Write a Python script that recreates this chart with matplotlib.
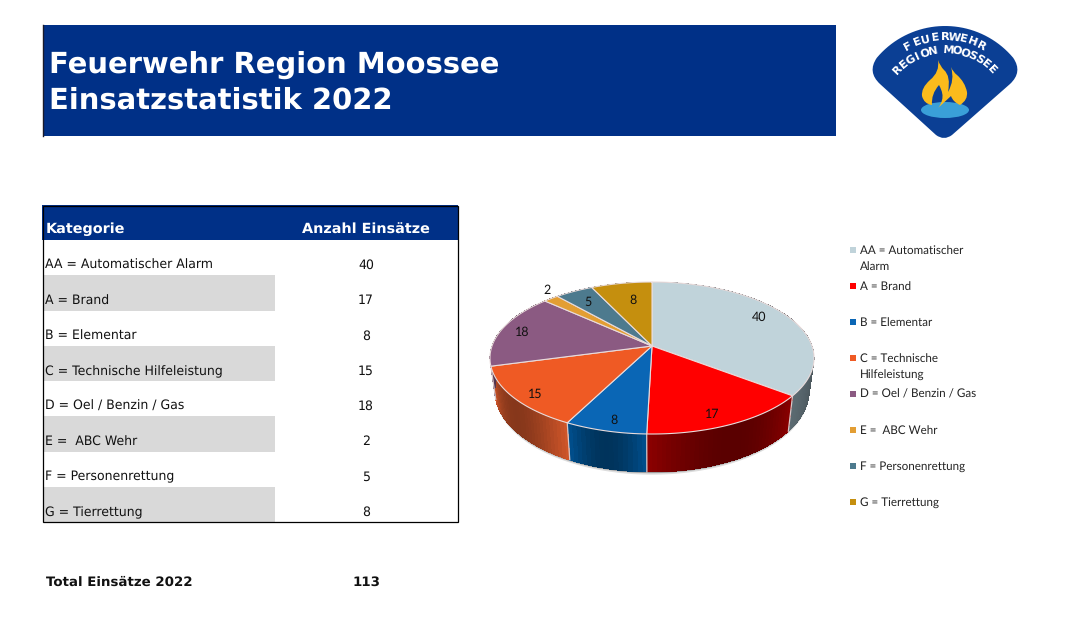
import numpy as np
import matplotlib
matplotlib.use("Agg")
import matplotlib.pyplot as plt
from matplotlib.patches import Polygon, Rectangle, Ellipse, PathPatch
from matplotlib.path import Path

plt.rcParams["text.hinting"] = "no_hinting"
plt.rcParams["text.hinting_factor"] = 8

kategorien = ["AA = Automatischer Alarm", "A = Brand", "B = Elementar", "C = Technische Hilfeleistung",
              "D = Oel / Benzin / Gas", "E =  ABC Wehr", "F = Personenrettung", "G = Tierrettung"]
legende = ["AA = Automatischer\nAlarm", "A = Brand", "B = Elementar", "C = Technische\nHilfeleistung",
           "D = Oel / Benzin / Gas", "E =  ABC Wehr", "F = Personenrettung", "G = Tierrettung"]
einsaetze = [40, 17, 8, 15, 18, 2, 5, 8]
farben = ["#c0d3da", "#ff0000", "#0a66b5", "#ef5a24", "#8b5a82", "#e39e33", "#4d7a8e", "#c58f0e"]
seiten = ["#5c6b72", "#8c0000", "#00508f", "#d2562a", "#6a4463", "#ad7a2a", "#3a5c6b", "#96700c"]
label_r = [0.84, 0.86, 0.88, 0.88, 0.86, 1.15, 0.81, 0.72]
label_dw = [-5, 3, -1, -2, 0, 4, 0, 2]
total = 113

blau = "#003087"
grau = "#d9d9d9"

fig = plt.figure(figsize=(10.87, 6.31), dpi=100)
ax = fig.add_axes([0, 0, 1, 1])
ax.set_xlim(0, 1087)
ax.set_ylim(631, 0)
ax.axis("off")

# Titel
ax.add_patch(Rectangle((43, 25), 793, 111, fc=blau, ec="none"))
ax.plot([42.5, 42.5], [25, 136], color="#1a1a2a", lw=1)
ax.text(49, 64.5, "Feuerwehr Region Moossee", color="white", fontsize=20.9, fontweight="bold", va="center")
ax.text(49, 100.5, "Einsatzstatistik 2022", color="white", fontsize=20.9, fontweight="bold", va="center")

# Tabelle
zeile = 35.25
ax.add_patch(Rectangle((42, 205), 416, 35, fc=blau, ec="none"))
for i, (k, n) in enumerate(zip(kategorien, einsaetze)):
    y0 = 240 + i * zeile
    if i % 2 == 1:
        ax.add_patch(Rectangle((43, y0), 232, zeile, fc=grau, ec="none"))
    ax.text(45, y0 + 25.5, k, fontsize=9, va="center", color="#111111")
    ax.text(366, y0 + 25.5, str(n), fontsize=9, va="center", ha="center", color="#111111")
ax.add_patch(Rectangle((42.5, 205.5), 415, 316, fc="none", ec="black", lw=0.9))
ax.text(46, 229.5, "Kategorie", color="white", fontsize=10.4, fontweight="bold", va="center")
ax.text(366, 229.5, "Anzahl Einsätze", color="white", fontsize=10.4, fontweight="bold", va="center", ha="center")
ax.text(46, 582, "Total Einsätze 2022", fontsize=9.6, fontweight="bold", va="center", color="#111111")
ax.text(366, 582, str(total), fontsize=9.6, fontweight="bold", va="center", ha="center", color="#111111")


# Kuchen mit Perspektive
cx, cy = 652, 346
def rand(theta, r=1.0, tiefe=0):
    u, v = np.sin(theta), np.cos(theta)
    w = 1 + 0.158 * r * v
    sx = 1 - 0.03 * tiefe
    return cx + 160 * sx * r * u / w, cy - 74.1 * r * v / w + tiefe * 32 / w

grenzen = np.cumsum([0] + einsaetze) / sum(einsaetze) * 2 * np.pi

# Schatten
t = np.linspace(0, 2 * np.pi, 200)
for d, a in [(1.03, 0.45), (1.07, 0.2)]:
    x, y = rand(t, 1.0, d)
    ax.add_patch(Polygon(np.c_[x, y], fc="#555555", ec="none", alpha=a, zorder=1))

# Seitenwand
for i in range(len(einsaetze)):
    a, b = grenzen[i], grenzen[i + 1]
    n = max(int((b - a) * 40), 2)
    kanten = np.linspace(a, b, n + 1)
    basis = np.array(matplotlib.colors.to_rgb(seiten[i]))
    for j in range(n):
        t0, t1 = kanten[j], kanten[j + 1] + 0.01
        s = 1 - 0.36 * np.sin(np.pi * (j + 0.5) / n)
        x0, y0 = rand(t0)
        x1, y1 = rand(t1)
        x2, y2 = rand(t1, tiefe=1)
        x3, y3 = rand(t0, tiefe=1)
        ax.add_patch(Polygon([(x0, y0), (x1, y1), (x2, y2), (x3, y3)], fc=basis * s, ec="none",
                             antialiased=False, zorder=2))
for g in grenzen:
    if np.cos(g) < 0.1:
        x0, y0 = rand(g)
        x1, y1 = rand(g, tiefe=1)
        ax.plot([x0, x1], [y0, y1], color="#d8c8c8", lw=0.9, zorder=3)

# Oberseite
for i in range(len(einsaetze)):
    t = np.linspace(grenzen[i], grenzen[i + 1], 80)
    x, y = rand(t)
    pts = np.r_[[[cx, cy]], np.c_[x, y]]
    ax.add_patch(Polygon(pts, fc=farben[i], ec="#e9dcdc", lw=0.8, zorder=4))
    mitte = (grenzen[i] + grenzen[i + 1]) / 2 + np.radians(label_dw[i])
    lx, ly = rand(mitte, label_r[i])
    ax.text(lx, ly + 1, str(einsaetze[i]), fontsize=9, family="Lato", ha="center", va="center", color="#111111", zorder=5)

# Legende
leg_y = 250
for i, (l, f) in enumerate(zip(legende, farben)):
    y = leg_y + i * 36
    ax.add_patch(Rectangle((850, y - 3), 6, 6, fc=f, ec="none"))
    for k, teil in enumerate(l.split("\n")):
        ax.text(860, y + 0.5 + k * 16.5, teil, fontsize=8.35, family="Lato", va="center", color="#222222")

# Logo
lx0, ly0, lr = 945, 115, 89
bogen = np.radians(np.linspace(-50, 50, 40))
bx, by = lx0 + lr * np.sin(bogen), ly0 - lr * np.cos(bogen)
v = [(880, 84), (867, 72)] + list(zip(bx, by)) + [(1023, 72), (1010, 84), (952, 135), (944, 141), (936, 135), (880, 84)]
c = [Path.MOVETO, Path.CURVE3, Path.CURVE3] + [Path.LINETO] * 39 + [Path.CURVE3, Path.CURVE3, Path.LINETO, Path.CURVE3, Path.CURVE3, Path.LINETO]
ax.add_patch(PathPatch(Path(v, c), fc="#0b3f94", ec="none"))
ax.add_patch(Ellipse((945, 110), 48, 16, fc="#3a9fd8", ec="none"))
flamme = [(938, 60), (940, 72), (930, 80), (921, 88), (922, 96), (924, 104), (932, 105),
          (931, 94), (939, 85), (944, 94), (942, 100), (941, 105), (938, 108),
          (951, 96), (953, 102), (960, 105), (968, 100), (967, 92), (965, 82), (957, 75),
          (953, 72), (951, 67), (955, 80), (948, 92), (951, 76), (944, 70), (940, 66), (938, 60)]
fc = [Path.MOVETO] + [Path.CURVE3] * 12 + [Path.LINETO] + [Path.CURVE3] * 14
ax.add_patch(PathPatch(Path(flamme, fc), fc="#fbbb1c", ec="none"))

def bogentext(txt, radius, halb):
    winkel = np.linspace(-halb, halb, len(txt))
    for ch, w in zip(txt, winkel):
        px = lx0 + radius * np.sin(np.radians(w))
        py = ly0 - radius * np.cos(np.radians(w))
        ax.text(px, py, ch, color="white", fontsize=8.2, fontweight="bold", ha="center", va="center", rotation=-w,
                rotation_mode="anchor")

bogentext("FEUERWEHR", 78, 28)
bogentext("REGION MOOSSEE", 65, 46)

fig.savefig("out.png", dpi=100)
